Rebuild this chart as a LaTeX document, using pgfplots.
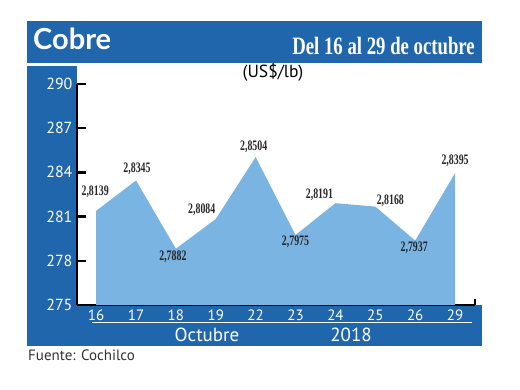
\documentclass[border=0pt]{standalone}
\usepackage{pgfplots}
\pgfplotsset{compat=1.18}
\usepackage{fontspec}
\setmainfont{PT Sans}
\newfontfamily\titlefont{Lato}
\newfontfamily\condserif[FakeStretch=0.75]{Liberation Serif}
\newfontfamily\lblserif[FakeStretch=0.68]{Liberation Serif}
\definecolor{bandblue}{RGB}{31,102,172}
\definecolor{areablue}{RGB}{122,180,226}
\definecolor{srcgray}{RGB}{50,50,50}
\begin{document}
\begin{tikzpicture}[x=1pt,y=1pt]
\useasboundingbox (0,0) rectangle (520,390);
% bands
\fill[bandblue] (27,369) rectangle (482,327);
\fill[bandblue] (27,324) rectangle (77,44);
\fill[bandblue] (77,85) rectangle (482,44);
\draw[white, line width=1pt] (92,67) -- (472,67);
\node[anchor=base west, inner sep=0, text=white, font=\titlefont\bfseries\fontsize{29}{29}\selectfont] at (33,340) {Cobre};
\node[anchor=base east, inner sep=0, text=white, font=\condserif\bfseries\fontsize{25}{25}\selectfont] at (475,335) {Del 16 al 29 de octubre};
\node[anchor=base, inner sep=0, text=black, font=\fontsize{17.5}{17.5}\selectfont] at (273,312) {(US\$/lb)};
\node[anchor=base, inner sep=0, text=white, font=\fontsize{19}{19}\selectfont] at (207,48.5) {Octubre};
\node[anchor=base, inner sep=0, text=white, font=\fontsize{19}{19}\selectfont] at (351,48.5) {2018};
\node[anchor=base west, inner sep=0, text=srcgray, font=\fontsize{15}{15}\selectfont] at (28,29.3) {Fuente: Cochilco};
\begin{axis}[
  at={(77pt,85pt)}, anchor=south west,
  scale only axis, width=398pt, height=221pt,
  xmin=-0.48, xmax=9.5, ymin=275, ymax=290,
  axis x line=bottom, axis y line=left,
  axis line style={line width=2.5pt, -},
  xtick={0,...,9},
  xticklabels={16,17,18,19,22,23,24,25,26,29},
  x tick style={draw=none},
  ytick={275,278,281,284,287,290},
  y tick style={line width=2.5pt, black},
  major tick length=9pt,
  tick align=inside,
  x tick label style={font=\fontsize{15}{15}\selectfont, text=white, yshift=-1pt},
  y tick label style={font=\fontsize{16}{16}\selectfont, text=white, xshift=-1pt},
  /pgf/number format/assume math mode=true,
  extra x ticks={9.5},
  extra x tick labels={},
  extra x tick style={x tick style={draw=black, line width=2pt}, major tick length=6pt},
  clip=false,
]
\addplot[fill=areablue, draw=none] table[x=x, y=y] {
x y
0 281.39
1 283.45
2 278.82
3 280.84
4 285.04
5 279.75
6 281.91
7 281.68
8 279.37
9 283.95
} \closedcycle;
\addplot[draw=none, mark=none,
  nodes near coords={\pgfplotspointmeta},
  point meta=explicit symbolic,
  visualization depends on={\thisrow{dx}\as\dx},
  visualization depends on={\thisrow{dy}\as\dy},
  every node near coord/.append style={anchor=center, inner sep=0, xshift=\dx pt, yshift=\dy pt, font=\lblserif\bfseries\fontsize{14.5}{14.5}\selectfont, text=black!85}
] table[x=x, y=y, meta=lab] {
x y lab dx dy
0 281.39 2,8139 -1 19
1 283.45 2,8345 1 12
2 278.82 2,7882 -3 -8
3 280.84 2,8084 -14 9
4 285.04 2,8504 -2 10
5 279.75 2,7975 0 -7
6 281.91 2,8191 -16 8
7 281.68 2,8168 15 6
8 279.37 2,7937 -1 -7
9 283.95 2,8395 0 12.5
};
\end{axis}
\end{tikzpicture}
\end{document}
